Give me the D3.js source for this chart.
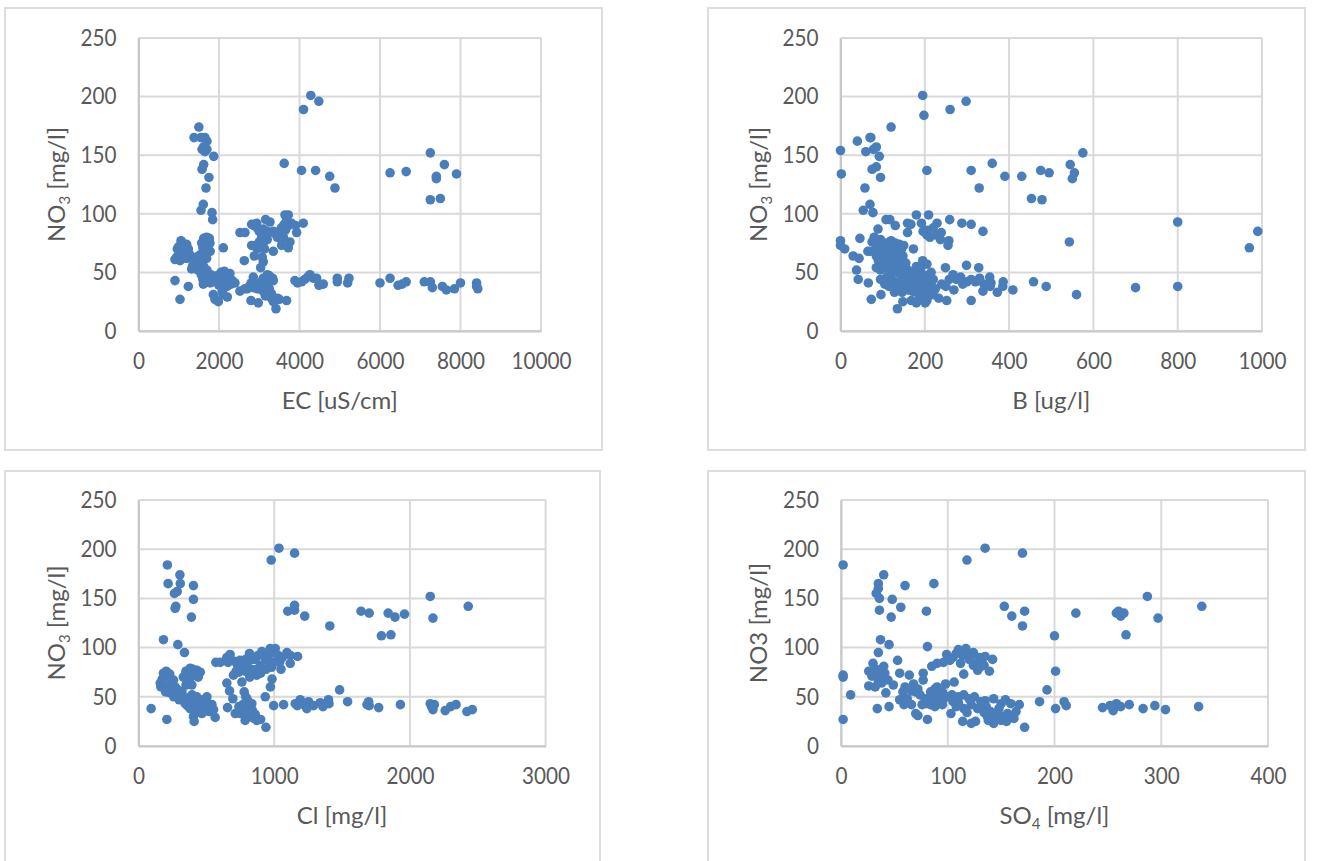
<!DOCTYPE html>
<html>
<head>
<meta charset="utf-8">
<script src="https://cdn.jsdelivr.net/npm/d3@7"></script>
<style>
html, body { margin: 0; padding: 0; background: #fff; overflow: hidden; }
text { font-family: Lato, sans-serif; fill: #595959; }
</style>
</head>
<body>
<svg id="chart" width="1321" height="861"></svg>
<script>
var nitrateTicks = [0, 50, 100, 150, 200, 250];
var ecTicks = [0, 2000, 4000, 6000, 8000, 10000];
var boronTicks = [0, 200, 400, 600, 800, 1000];
var chlorideTicks = [0, 1000, 2000, 3000];
var sulfateTicks = [0, 100, 200, 300, 400];

// [x, NO3]
var ecPoints = [
[1500,174],[1380,165],[1550,165],[1650,165],[1700,162],[1620,157],[1580,155],[1650,153],[1700,155],[1870,149],[1620,142],[1580,138],[1750,131],[1677,122],[1610,108],[1553,103],[1826,101],[1842,95],
[4280,201],[4480,196],[4100,189],[3620,143],[4050,137],[4400,137],[4750,132],[4881,122],[6250,135],[6650,136],[7250,152],[7600,142],[7400,132],[7400,130],[7900,134],[7250,112],[7500,113],
[1056,77],[1100,75],[1196,74],[1000,72],[965,70],[1114,70],[1238,70],[1050,67],[1150,66],[1280,65],[950,63],[907,61],[1031,60],[1100,62],[1200,62],
[1693,80],[1620,79],[1760,79],[1569,75],[1776,75],[1650,74],[1710,70],[1600,71],[1780,68],[2107,71],
[1528,65],[1450,63],[1620,66],[1403,60],[1500,60],[1693,62],[1580,58],[1320,53],[1400,54],[1528,55],[1620,55],[1350,56],[1480,52],[1652,49],[1560,48],[1700,52],[1600,44],[1750,47],[1800,48],[1850,46],[1900,44],[1950,47],[2000,45],[1720,42],[1610,40],[1780,41],[1860,42],
[2132,51],[2050,50],[2272,49],[2200,47],[2150,44],[2250,44],[2330,43],[2396,41],[2300,40],[2107,38],[2200,38],[2050,41],[2130,41],[2000,39],[1859,31],[1900,27],[1983,25],[2206,29],[2080,34],[2100,31],
[907,43],[1238,38],[1031,27],
[2520,34],[2640,36],[2750,38],[2700,36],[2852,46],[2800,41],[2900,39],[3000,40],[3050,37],[3150,42],[3200,38],[3250,47],[3330,45],[3349,43],[3200,44],[2950,36],[3100,34],[3200,34],[3250,31],[3150,30],[3300,28],[3400,26],[3450,28],[3350,25],[2794,26],[2976,24],[3185,31],[3415,19],[3680,26],[3300,32],[3500,27],[2850,37],[3050,42],[3120,38],[3000,36],[3250,36],
[2521,84],[2645,84],[2811,91],[2935,92],[2870,90],[2950,88],[3158,95],[3266,93],[3100,87],[3000,85],[3200,85],[3060,80],[3150,82],[3000,76],[3100,75],[3250,84],[3350,85],[3400,83],[3500,85],[3450,80],[3550,88],[3639,99],[3722,99],[3680,96],[3620,91],[3720,90],[3800,92],[3900,90],[4094,92],[3929,84],[3763,76],[3722,71],[3556,73],[3349,68],[2811,73],[2900,73],[3060,73],[2950,70],[3130,70],[3200,78],[2629,60],[2877,64],[3074,63],[3035,54],[3100,59],[3200,48],[3100,45],[3250,42],[3600,80],[3650,86],[3550,78],
[3887,43],[3950,41],[4053,42],[4130,44],[4200,46],[4260,48],[4350,45],[4425,45],[4483,39],[4591,40],[4939,45],[4939,42],[5229,45],[5196,41],
[6000,41],[6250,45],[6450,39],[6550,40],[6650,42],[7100,42],[7250,42],[7300,37],[7550,38],[7650,35],[7850,36],[8000,41],[8400,41],[8400,38],[8430,36]
];

var boronPoints = [
[195,201],[198,184],[260,189],[298,196],[0,154],[2,134],[40,162],[60,153],[70,165],[72,165],[78,155],[85,157],[92,149],[120,174],[75,138],[85,140],[95,131],[205,137],[310,137],[360,143],[390,132],[430,132],[495,135],[475,137],[545,142],[575,152],[555,135],[550,130],
[58,122],[329,122],[453,113],[478,112],[70,108],[54,103],[77,101],[180,99],[209,99],[259,95],[288,92],[310,91],[338,85],[117,95],[108,95],[130,90],[159,92],[167,91],[159,84],[89,87],[229,92],[192,92],[196,85],[212,80],[239,84],[237,78],[257,77],[255,73],[173,70],[205,86],[220,88],[205,82],[225,82],
[46,79],[0,77],[0,73],[10,70],[30,64],[44,62],[38,52],[42,44],[66,41],[73,27],[96,31],[135,19],[128,33],[146,33],[148,25],[168,26],[180,24],[201,24],[233,28],[252,26],[310,26],[269,35],[249,54],[299,56],[328,54],[338,34],[354,46],[357,41],[372,33],[386,42],[409,35],[458,42],[488,38],[267,48],[285,46],[300,42],[320,42],[330,45],[355,38],[385,38],[215,50],[205,57],[195,60],[210,48],
[990,85],[800,93],[970,71],[543,76],[560,31],[700,37],[800,38],
[80,80],[75,76],[85,74],[95,78],[100,72],[110,75],[120,77],[130,75],[140,74],[150,73],[65,68],[72,68],[85,70],[95,68],[105,68],[115,70],[125,70],[135,69],[145,70],[148,64],[85,64],[95,64],[105,64],[115,65],[125,64],[135,62],[145,60],[155,58],[90,60],[100,58],[110,60],[120,58],[130,57],[140,55],[150,54],[160,52],[85,54],[95,52],[105,54],[115,52],[125,50],[135,50],[145,48],[155,47],[170,48],[180,45],[190,46],[200,44],[110,46],[120,44],[130,42],[140,42],[150,40],[165,41],[175,38],[190,38],[205,37],[215,40],[95,44],[105,40],[115,38],[125,37],[140,37],[160,35],[180,33],[195,32],[210,34],[225,36],[240,40],[250,38],[195,28],[205,26],[220,31],
[165,50],[175,47],[185,50],[195,48],[205,42],[220,44],[185,42],[155,37],[170,34],[185,37],[200,36],[215,31],[188,28],[190,53],[180,55],[258,44],[275,44],[310,44],[340,40],[290,40]
];

var chloridePoints = [
[93,38],[209,27],[410,25],[565,29],[467,33],[405,30],[440,36],[520,35],
[204,76],[184,74],[160,64],[175,68],[190,70],[165,60],[215,71],[230,73],[258,67],[240,64],[180,62],[200,60],[225,58],[250,60],[270,60],[290,57],[200,55],[233,54],[260,50],[285,52],[307,52],[320,55],[300,47],[330,47],[344,43],[365,49],[395,52],[430,50],[460,47],[504,50],[480,44],[450,43],[400,44],[360,41],[380,38],[420,38],[450,36],[490,40],[541,42],[553,37],[530,42],
[381,79],[350,76],[400,78],[430,77],[455,75],[344,72],[370,73],[410,72],[440,70],[330,70],[393,62],[360,65],[375,67],[350,62],
[184,108],[290,103],[339,95],
[570,85],[602,85],[675,93],[651,90],[660,85],[710,86],[749,87],[730,82],[770,80],[818,94],[840,88],[800,84],[860,88],[909,96],[930,90],[971,99],[1008,99],[990,95],[950,87],[900,82],[870,78],[830,78],[1094,95],[1120,92],[1172,91],[1118,84],[1050,78],[984,68],[972,60],[934,50],[1000,85],[940,78],[900,74],[872,72],[820,70],[786,76],[762,65],[700,72],[720,76],[651,64],[671,56],[695,48],[656,39],
[880,92],[960,92],[1030,92],[1060,90],[980,80],[790,88],[760,84],[740,75],[1040,85],
[779,55],[790,50],[798,48],[810,45],[835,43],[740,40],[770,42],[800,40],[830,38],[713,33],[750,33],[790,35],[820,33],[860,32],[786,26],[820,30],[850,28],[872,26],[900,27],[939,19],[775,38],[810,37],[760,36],[840,36],
[996,41],[1069,42],[1155,43],[1192,47],[1170,41],[1220,42],[1253,45],[1240,38],[1290,41],[1339,44],[1359,40],[1400,47],[1404,43],[1482,57],[1541,45],[1684,42],[1696,45],[1700,41],[1770,39],[1930,42],
[213,184],[218,165],[305,174],[308,165],[405,163],[405,149],[265,155],[285,157],[390,131],[270,140],[275,142],[978,189],[1035,201],[1150,196],[1100,137],[1150,143],[1150,138],[1225,132],[1410,122],[1640,137],[1700,135],[1840,135],[1890,131],[1960,134],[2150,152],[2170,130],[2430,142],[1790,112],[1860,113],
[2150,43],[2160,40],[2170,37],[2180,42],[2260,36],[2300,40],[2340,42],[2420,35],[2460,37]
];

var sulfatePoints = [
[2,70],[2,72],[9,52],[2,27],[34,38],[45,40],[55,47],[42,54],[35,95],[37,108],[45,103],[81,101],[53,87],
[30,84],[26,76],[40,81],[33,78],[41,74],[29,71],[37,72],[44,67],[35,66],[26,61],[32,60],[38,64],[49,62],[55,74],[64,72],[77,74],[77,67],[60,60],[68,63],[58,55],[66,56],[72,58],[62,48],[59,42],[66,42],[70,33],[72,31],[81,27],
[85,81],[90,84],[96,85],[99,93],[105,90],[110,98],[117,99],[124,95],[112,84],[120,88],[130,90],[135,91],[142,88],[139,76],[128,77],[124,82],[115,73],[102,87],[108,94],[114,92],[122,92],[128,85],[134,82],[130,80],
[106,65],[98,63],[90,60],[84,55],[79,48],[84,42],[90,50],[95,55],[100,50],[95,42],[105,45],[110,50],[115,52],[120,48],[103,33],[108,40],[115,38],[122,42],[128,38],[114,25],[122,23],[126,25],[131,45],[136,40],[143,48],[150,43],[140,35],[137,30],[143,23],[146,33],[152,30],[155,25],[162,28],[172,19],[154,47],[159,43],[167,42],[164,35],
[88,58],[92,55],[86,48],[92,45],[104,52],[110,44],[125,50],[135,46],[148,38],[145,30],[150,26],[138,26],[156,33],[96,48],[80,43],[76,42],[88,40],[118,34],[134,34],[70,55],[74,52],
[186,45],[193,57],[201,76],[201,38],[209,45],[211,41],
[2,184],[35,165],[35,160],[33,155],[36,150],[36,138],[47,131],[48,149],[40,174],[60,163],[56,141],[87,165],[80,137],[118,189],[135,201],[170,196],[172,137],[153,142],[160,132],[170,122],[200,112],[220,135],[258,135],[260,137],[265,135],[262,132],[287,152],[297,130],[267,113],[338,142],
[245,39],[252,41],[255,36],[258,43],[262,40],[270,42],[283,38],[294,41],[304,37],[335,40]
];

var panels = [
    { points: ecPoints, xTicks: ecTicks, xMax: 10000, xLabel: "EC [uS/cm]", yLabel: ["NO", "3", " [mg/l]"],
      box: [5, 8, 597, 442], plot: [138.5, 541, 38, 331], xLabelY: 409, yLabelX: 65 },
    { points: boronPoints, xTicks: boronTicks, xMax: 1000, xLabel: "B [ug/l]", yLabel: ["NO", "3", " [mg/l]"],
      box: [708, 8, 597, 442], plot: [840.5, 1262, 38, 331], xLabelY: 409, yLabelX: 767 },
    { points: chloridePoints, xTicks: chlorideTicks, xMax: 3000, xLabel: "Cl [mg/l]", yLabel: ["NO", "3", " [mg/l]"],
      box: [5, 471, 595, 400], plot: [138.5, 545.6, 500, 746], xLabelY: 824, yLabelX: 65 },
    { points: sulfatePoints, xTicks: sulfateTicks, xMax: 400, xLabel: ["SO", "4", " [mg/l]"], yLabel: ["NO3 [mg/l]"],
      box: [708, 471, 597, 400], plot: [841, 1268, 500, 746], xLabelY: 824, yLabelX: 767 }
];

var svg = d3.select("#chart");

function addLabel(sel, parts) {
    if (typeof parts === "string") parts = [parts];
    parts.forEach(function(p, i) {
        var t = sel.append("tspan").text(p);
        if (i == 1) {
            t.style("font-size", "15px").attr("dy", 5);
        } else if (i == 2) {
            t.attr("dy", -5);
        }
    });
}

panels.forEach(function(p) {
    var g = svg.append("g");

    g.append("rect")
        .attr("x", p.box[0]).attr("y", p.box[1])
        .attr("width", p.box[2]).attr("height", p.box[3])
        .attr("fill", "#fff").attr("stroke", "#dddddd").attr("stroke-width", 2);

    var x = d3.scaleLinear().domain([0, p.xMax]).range([p.plot[0], p.plot[1]]);
    var y = d3.scaleLinear().domain([0, 250]).range([p.plot[3], p.plot[2]]);

    // gridlines
    g.selectAll(".gx").data(p.xTicks).enter().append("line")
        .attr("x1", function(d) { return x(d); }).attr("x2", function(d) { return x(d); })
        .attr("y1", y(0)).attr("y2", y(250))
        .attr("stroke", "#d9d9d9").attr("stroke-width", 2);
    g.selectAll(".gy").data(nitrateTicks).enter().append("line")
        .attr("x1", x(0)).attr("x2", x(p.xMax))
        .attr("y1", function(d) { return y(d); }).attr("y2", function(d) { return y(d); })
        .attr("stroke", "#d9d9d9").attr("stroke-width", 2);

    var xAxis = g.append("g").attr("transform", "translate(0," + y(0) + ")")
        .call(d3.axisBottom(x).tickValues(p.xTicks).tickSize(0).tickPadding(22).tickFormat(d3.format("d")));
    var yAxis = g.append("g").attr("transform", "translate(" + x(0) + ",0)")
        .call(d3.axisLeft(y).tickValues(nitrateTicks).tickSize(0).tickPadding(22).tickFormat(d3.format("d")));
    [xAxis, yAxis].forEach(function(a) {
        a.attr("font-family", null).attr("font-size", null);
        // Lato digits run wide at this height, squeeze them to the reference width
        a.selectAll("text").style("font-size", "23px")
            .attr("textLength", function(d) { return String(d).length * 12; })
            .attr("lengthAdjust", "spacingAndGlyphs");
        a.select(".domain").attr("stroke", "#c8c8c8").attr("stroke-width", 2);
    });

    g.append("text")
        .attr("x", (p.plot[0] + p.plot[1]) / 2).attr("y", p.xLabelY)
        .attr("text-anchor", "middle").style("font-size", "24px")
        .call(addLabel, p.xLabel);
    g.append("text")
        .attr("transform", "translate(" + p.yLabelX + "," + (p.plot[2] + p.plot[3]) / 2 + ") rotate(-90)")
        .attr("text-anchor", "middle").style("font-size", "24px")
        .call(addLabel, p.yLabel);

    g.selectAll("circle").data(p.points).enter().append("circle")
        .attr("cx", function(d) { return x(d[0]); })
        .attr("cy", function(d) { return y(d[1]); })
        .attr("r", 4.8)
        .attr("fill", "#4a7ebb");
});
</script>
</body>
</html>
